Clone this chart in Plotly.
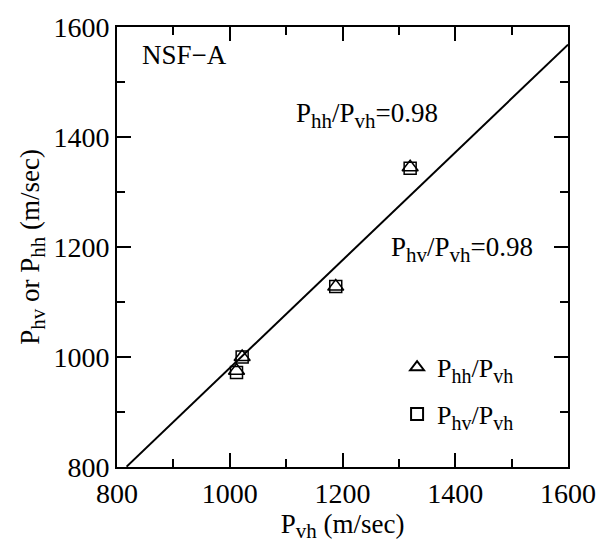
import plotly.graph_objects as go

# Data (m/sec)
pvh_hh = [1012, 1022, 1188, 1320]
phh = [975, 1000, 1128, 1345]
pvh_hv = [1012, 1022, 1188, 1320]
phv = [972, 1000, 1128, 1343]
fit_x = [817, 1600]
ratio = 0.98
fit_y = [v * ratio for v in fit_x]

FONT = "Liberation Serif"
TS = 28


def sub(s, px=21):
    return f"<sub><span style='font-size:{px}px'>{s}</span></sub>"


fig = go.Figure()
fig.add_trace(go.Scatter(x=fit_x, y=fit_y, mode="lines",
                         line=dict(color="black", width=2), showlegend=False))
fig.add_trace(go.Scatter(x=pvh_hh, y=phh, mode="markers", name="P" + sub("hh", 20) + "/P" + sub("vh", 20),
                         legendgroup="a",
                         marker=dict(symbol="triangle-up-open", size=14, color="black",
                                     line=dict(width=1.5, color="black"))))
fig.add_trace(go.Scatter(x=pvh_hv, y=phv, mode="markers", name="P" + sub("hv", 20) + "/P" + sub("vh", 20),
                         legendgroup="b",
                         marker=dict(symbol="square-open", size=12, color="black",
                                     line=dict(width=1.5, color="black"))))

axis_common = dict(
    range=[800, 1600], dtick=200, ticks="inside", ticklen=14, tickwidth=1.5,
    tickcolor="black", showline=True, linecolor="black", linewidth=2, mirror="ticks",
    showgrid=False, zeroline=False,
    tickfont=dict(family=FONT, size=TS, color="black"),
    minor=dict(dtick=100, ticks="inside", ticklen=8, tickwidth=1.5, tickcolor="black"),
)

fig.update_layout(
    width=608, height=548,
    margin=dict(l=117, r=32, t=16, b=81),
    plot_bgcolor="white", paper_bgcolor="white",
    font=dict(family=FONT, color="black", size=27),
    xaxis=dict(**axis_common, ticklabelstandoff=0,
               title=dict(text="P" + sub("vh") + " (m/sec)", font=dict(family=FONT, size=27), standoff=6)),
    yaxis=dict(**axis_common, ticklabelstandoff=0,
               title=dict(text="P" + sub("hv") + " or P" + sub("hh") + " (m/sec)",
                          font=dict(family=FONT, size=27), standoff=6)),
    legend=dict(x=0.621, y=0.28, xanchor="left", yanchor="top", bgcolor="rgba(0,0,0,0)",
                font=dict(family=FONT, size=26), itemsizing="constant", tracegroupgap=10),
    showlegend=True,
)

fig.add_annotation(x=840, y=1549, text="NSF−A", showarrow=False,
                   font=dict(family=FONT, size=27), xanchor="left")
fig.add_annotation(x=1244, y=1440, text="P" + sub("hh") + "/P" + sub("vh") + "=0.98", showarrow=False,
                   font=dict(family=FONT, size=27))
fig.add_annotation(x=1412, y=1196, text="P" + sub("hv") + "/P" + sub("vh") + "=0.98", showarrow=False,
                   font=dict(family=FONT, size=27))

fig.write_html("out.html")
